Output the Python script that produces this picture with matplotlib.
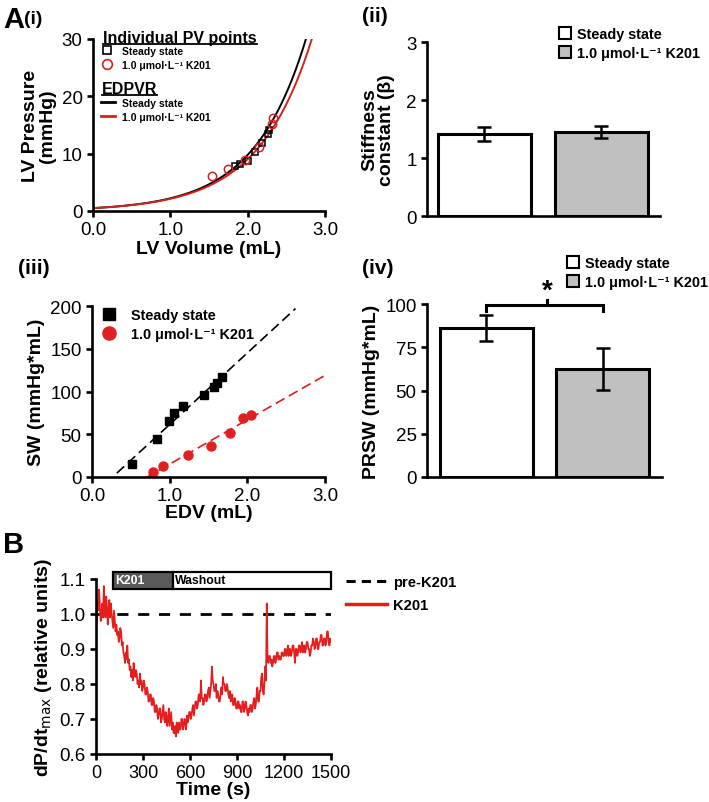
import numpy as np
import matplotlib
matplotlib.use('Agg')
import matplotlib.pyplot as plt
from matplotlib.lines import Line2D
from matplotlib.patches import Patch, Rectangle

plt.rcParams['font.family'] = ['Liberation Sans', 'DejaVu Sans']
plt.rcParams['axes.linewidth'] = 1.9
plt.rcParams['xtick.major.width'] = 1.9
plt.rcParams['ytick.major.width'] = 1.9
plt.rcParams['xtick.major.size'] = 4
plt.rcParams['ytick.major.size'] = 4
plt.rcParams['xtick.labelsize'] = 13.5
plt.rcParams['ytick.labelsize'] = 13.5

K201 = '1.0 \u03bcmol\u00b7L\u207b\u00b9 K201'
groups = ['Steady state', K201]

# A(i) individual PV points
pv_ss_vol = [1.84, 1.90, 2.00, 2.09, 2.18, 2.26, 2.27]
pv_ss_pres = [7.9, 8.2, 8.7, 10.3, 11.8, 13.4, 14.2]
pv_k_vol = [1.54, 1.74, 1.97, 2.15, 2.31, 2.33]
pv_k_pres = [6.1, 7.3, 8.9, 11.2, 15.1, 16.3]
# EDPVR fits  P = a * exp(b * V)
edpvr_a = [0.50, 0.50]
edpvr_b = [1.487, 1.447]

# A(ii) stiffness constant
beta_mean = [1.41, 1.45]
beta_sem = [0.12, 0.11]

# A(iii) stroke work vs EDV
sw_ss_edv = [0.52, 0.84, 0.99, 1.06, 1.17, 1.44, 1.57, 1.61, 1.67]
sw_ss = [14.8, 44, 65, 75, 83, 96, 105, 109.5, 117]
sw_k_edv = [0.79, 0.92, 1.23, 1.53, 1.78, 1.95, 2.05]
sw_k = [6, 13, 26, 36, 52, 69, 72]
fit_range_ss = [0.32, 2.62]
fit_range_k = [0.69, 3.0]

# A(iv) PRSW
prsw_mean = [86, 62.5]
prsw_sem = [7.5, 12]

# B dP/dt max trace, 5 s samples
trace_t = np.arange(0, 1501, 5)
trace_v = [
    0.95, 0.99, 1.04, 1.01, 1.07, 1.02, 0.98, 1.00, 1.03, 0.99, 1.08, 1.01, 0.99, 1.05, 1.02, 0.97, 1.01, 1.04, 0.99, 1.03,
    1.00, 0.98, 0.96, 1.01, 0.98, 0.95, 0.97, 0.94, 0.95, 0.92, 0.93, 0.96, 0.95, 0.91, 0.92, 0.89, 0.88, 0.86, 0.89, 0.87,
    0.91, 0.86, 0.87, 0.84, 0.85, 0.82, 0.84, 0.81, 0.86, 0.83, 0.82, 0.84, 0.83, 0.80, 0.81, 0.79, 0.83, 0.80, 0.81, 0.78,
    0.79, 0.81, 0.80, 0.77, 0.77, 0.79, 0.78, 0.75, 0.75, 0.77, 0.77, 0.74, 0.74, 0.76, 0.75, 0.72, 0.72, 0.74, 0.73, 0.70,
    0.71, 0.73, 0.73, 0.69, 0.70, 0.72, 0.74, 0.70, 0.69, 0.72, 0.71, 0.68, 0.70, 0.73, 0.68, 0.70, 0.72, 0.67, 0.69, 0.66,
    0.66, 0.68, 0.65, 0.69, 0.67, 0.66, 0.69, 0.67, 0.67, 0.70, 0.70, 0.67, 0.68, 0.70, 0.69, 0.67, 0.71, 0.69, 0.70, 0.72,
    0.72, 0.70, 0.71, 0.73, 0.74, 0.71, 0.73, 0.75, 0.75, 0.73, 0.74, 0.77, 0.77, 0.75, 0.81, 0.76, 0.76, 0.74, 0.75, 0.77,
    0.77, 0.75, 0.76, 0.78, 0.79, 0.76, 0.78, 0.80, 0.85, 0.81, 0.80, 0.78, 0.78, 0.80, 0.76, 0.78, 0.77, 0.75, 0.75, 0.77,
    0.79, 0.77, 0.82, 0.80, 0.80, 0.78, 0.78, 0.80, 0.79, 0.77, 0.76, 0.78, 0.75, 0.77, 0.77, 0.74, 0.74, 0.76, 0.75, 0.73,
    0.73, 0.75, 0.75, 0.73, 0.74, 0.72, 0.72, 0.75, 0.75, 0.72, 0.73, 0.75, 0.74, 0.72, 0.71, 0.73, 0.72, 0.74, 0.74, 0.72,
    0.73, 0.75, 0.76, 0.73, 0.74, 0.77, 0.79, 0.75, 0.75, 0.78, 0.78, 0.82, 0.83, 0.78, 0.77, 0.80, 0.85, 0.81, 1.03, 0.87,
    0.86, 0.88, 0.88, 0.86, 0.87, 0.85, 0.86, 0.88, 0.88, 0.86, 0.87, 0.89, 0.89, 0.87, 0.88, 0.87, 0.87, 0.89, 0.89, 0.88,
    0.88, 0.90, 0.90, 0.88, 0.89, 0.91, 0.88, 0.90, 0.90, 0.88, 0.89, 0.91, 0.91, 0.89, 0.86, 0.90, 0.90, 0.88, 0.89, 0.91,
    0.91, 0.89, 0.90, 0.92, 0.89, 0.91, 0.91, 0.89, 0.90, 0.92, 0.92, 0.90, 0.90, 0.88, 0.89, 0.91, 0.91, 0.93, 0.92, 0.90,
    0.91, 0.93, 0.93, 0.90, 0.90, 0.92, 0.92, 0.94, 0.94, 0.91, 0.91, 0.93, 0.93, 0.91, 0.92, 0.95, 0.95, 0.92, 0.91, 0.93,
    0.92,
]
phases = ['K201', 'Washout']
phase_start = [110, 490]
phase_end = [490, 1500]

W, H = 709, 803
fig = plt.figure(figsize=(W / 100, H / 100), dpi=100)


def fx(px):
    return px / W


def fy(py):
    return 1 - py / H


def make_ax(x0, y0, x1, y1):
    ax = fig.add_axes([fx(x0), fy(y1), fx(x1) - fx(x0), (y1 - y0) / H])
    ax.spines['top'].set_visible(False)
    ax.spines['right'].set_visible(False)
    return ax


lab = dict(fontsize=14, fontweight='bold')

# ---- A(i)
ax1 = make_ax(93, 40, 325, 212)
v = np.linspace(0, 2.9, 300)
ax1.plot(v, edpvr_a[0] * np.exp(edpvr_b[0] * v), color='black', lw=1.4)
ax1.plot(v, edpvr_a[1] * np.exp(edpvr_b[1] * v), color='#d62020', lw=1.4)
ax1.plot(pv_ss_vol, pv_ss_pres, 's', mfc='none', mec='black', ms=5, mew=1.1)
ax1.plot(pv_k_vol, pv_k_pres, 'o', mfc='none', mec='#d62020', ms=6, mew=1.1)
ax1.set_xlim(0, 3)
ax1.set_ylim(0, 30)
ax1.set_xticks([0, 1, 2, 3])
ax1.set_xticklabels(['0.0', '1.0', '2.0', '3.0'])
ax1.set_yticks([0, 10, 20, 30])
ax1.set_xlabel('LV Volume (mL)', labelpad=1, **lab)
ax1.set_ylabel('LV Pressure\n(mmHg)', labelpad=4, linespacing=1.0, **lab)

h1 = fig.text(fx(103), fy(38), 'Individual PV points', fontsize=11.5,
              fontweight='bold', va='center')
h2 = fig.text(fx(102), fy(89), 'EDPVR', fontsize=11.5, fontweight='bold',
              va='center')
leg1 = ax1.legend(handles=[
    Line2D([], [], ls='none', marker='s', mfc='none', mec='black', ms=6, mew=1.2),
    Line2D([], [], ls='none', marker='o', mfc='none', mec='#d62020', ms=7, mew=1.2)],
    labels=groups, loc='upper left', bbox_to_anchor=(fx(102), fy(47)),
    bbox_transform=fig.transFigure, frameon=False, prop=dict(size=7.5, weight='bold'),
    handlelength=1.0, handletextpad=0.9, labelspacing=0.35, borderpad=0, borderaxespad=0)
ax1.add_artist(leg1)
ax1.legend(handles=[Line2D([], [], color='black', lw=2),
                    Line2D([], [], color='#d62020', lw=2)],
           labels=groups, loc='upper left', bbox_to_anchor=(fx(101), fy(99)),
           bbox_transform=fig.transFigure, frameon=False,
           prop=dict(size=7.5, weight='bold'), handlelength=1.3,
           handletextpad=0.7, labelspacing=0.35, borderpad=0, borderaxespad=0)

# ---- A(ii)
ax2 = make_ax(427, 43, 660, 217)
ax2.bar([0, 1], beta_mean, width=0.8, color=['white', '#c0c0c0'],
        edgecolor='black', linewidth=2.2)
ax2.errorbar([0, 1], beta_mean, yerr=beta_sem, fmt='none', ecolor='black',
             elinewidth=1.8, capsize=5, capthick=1.8)
ax2.set_xlim(-0.49, 1.5)
ax2.set_ylim(0, 3)
ax2.set_yticks([0, 1, 2, 3])
ax2.set_xticks([])
ax2.set_ylabel('Stiffness\nconstant (\u03b2)', labelpad=8, linespacing=1.0, **lab)
ax2.legend(handles=[Patch(facecolor='white', edgecolor='black', lw=1.5),
                    Patch(facecolor='#c0c0c0', edgecolor='black', lw=1.5)],
           labels=groups, loc='upper left', bbox_to_anchor=(fx(559), fy(28)),
           bbox_transform=fig.transFigure, frameon=False,
           prop=dict(size=10.4, weight='bold'), handlelength=0.85,
           handleheight=0.85, handletextpad=0.4, labelspacing=0.35,
           borderpad=0, borderaxespad=0)

# ---- A(iii)
ax3 = make_ax(92, 307, 325, 478)
c_ss = np.polyfit(sw_ss_edv, sw_ss, 1)
c_k = np.polyfit(sw_k_edv, sw_k, 1)
xr = np.array(fit_range_ss)
ax3.plot(xr, np.polyval(c_ss, xr), color='black', lw=1.2, dashes=(6, 3))
xr = np.array(fit_range_k)
ax3.plot(xr, np.polyval(c_k, xr), color='#d62020', lw=1.2, dashes=(6, 3))
ax3.plot(sw_ss_edv, sw_ss, 's', color='black', ms=5.5, label=groups[0])
ax3.plot(sw_k_edv, sw_k, 'o', color='#e02020', ms=6.5, label=groups[1])
ax3.set_xlim(0, 3)
ax3.set_ylim(0, 200)
ax3.set_xticks([0, 1, 2, 3])
ax3.set_xticklabels(['0.0', '1.0', '2.0', '3.0'])
ax3.set_yticks([0, 50, 100, 150, 200])
ax3.set_xlabel('EDV (mL)', labelpad=0, **lab)
ax3.set_ylabel('SW (mmHg*mL)', labelpad=4, **lab)
ax3.legend(handles=[Line2D([], [], ls='none', marker='s', color='black', ms=8),
                    Line2D([], [], ls='none', marker='o', color='#e02020', ms=9.5)],
           labels=groups, loc='upper left', bbox_to_anchor=(fx(102), fy(309)),
           bbox_transform=fig.transFigure, frameon=False,
           prop=dict(size=10.4, weight='bold'), handlelength=1.0,
           handletextpad=1.0, labelspacing=0.35, borderpad=0, borderaxespad=0)

# ---- A(iv)
ax4 = make_ax(427, 305, 662, 478)
ax4.bar([0, 1], prsw_mean, width=0.8, color=['white', '#c0c0c0'],
        edgecolor='black', linewidth=2.2)
ax4.errorbar([0, 1], prsw_mean, yerr=prsw_sem, fmt='none', ecolor='black',
             elinewidth=1.8, capsize=5, capthick=1.8)
ax4.plot([0, 0, 1, 1], [96, 99.5, 99.5, 96], color='black', lw=2.2,
         clip_on=False, solid_joinstyle='miter')
ax4.plot([0.52, 0.52], [99.5, 102.5], color='black', lw=2.2, clip_on=False)
ax4.text(0.52, 100.5, '*', ha='center', va='bottom', fontsize=20,
         fontweight='bold')
ax4.set_xlim(-0.51, 1.51)
ax4.set_ylim(0, 100)
ax4.set_yticks([0, 25, 50, 75, 100])
ax4.set_xticks([])
ax4.set_ylabel('PRSW (mmHg*mL)', labelpad=4, **lab)
ax4.legend(handles=[Patch(facecolor='white', edgecolor='black', lw=1.5),
                    Patch(facecolor='#c0c0c0', edgecolor='black', lw=1.5)],
           labels=groups, loc='upper left', bbox_to_anchor=(fx(567), fy(257)),
           bbox_transform=fig.transFigure, frameon=False,
           prop=dict(size=10.4, weight='bold'), handlelength=0.85,
           handleheight=0.85, handletextpad=0.4, labelspacing=0.35,
           borderpad=0, borderaxespad=0)

# ---- B
ax5 = make_ax(96, 580, 331, 755)
ax5.plot([0, 1500], [1.0, 1.0], color='black', lw=2, dashes=(4, 3.5))
ax5.plot(trace_t, trace_v, color='#e51d1d', lw=1.25)
for name, s, e in zip(phases, phase_start, phase_end):
    dark = name == 'K201'
    ax5.add_patch(Rectangle((s, 1.072), e - s, 0.048, clip_on=False,
                            facecolor='#5a5a5a' if dark else 'white',
                            edgecolor='black', lw=1.6))
    ax5.text(s + 12, 1.096, name, ha='left', va='center', fontsize=8.8,
             fontweight='bold', color='white' if dark else 'black')
ax5.set_xlim(0, 1500)
ax5.set_ylim(0.6, 1.1)
ax5.set_xticks([0, 300, 600, 900, 1200, 1500])
ax5.set_yticks([0.6, 0.7, 0.8, 0.9, 1.0, 1.1])
ax5.set_yticklabels(['0.6', '0.7', '0.8', '0.9', '1.0', '1.1'])
ax5.tick_params(axis='x', labelsize=13)
ax5.set_xlabel('Time (s)', labelpad=0, **lab)
ax5.set_ylabel('dP/dt$_{\\mathrm{max}}$ (relative units)', labelpad=4, **lab)
ax5.legend(handles=[Line2D([], [], color='black', lw=2.2, dashes=(3, 2)),
                    Line2D([], [], color='#e51d1d', lw=2.5)],
           labels=['pre-K201', 'K201'], loc='upper left',
           bbox_to_anchor=(fx(346), fy(576)), bbox_transform=fig.transFigure,
           frameon=False, prop=dict(size=10.6, weight='bold'),
           handlelength=2.8, handletextpad=0.4, labelspacing=0.6,
           borderpad=0, borderaxespad=0)

# panel labels
fig.text(fx(3), fy(20), 'A', fontsize=21, fontweight='bold', va='center')
fig.text(fx(24), fy(20), '(i)', fontsize=14, fontweight='bold', va='center')
fig.text(fx(362), fy(16), '(ii)', fontsize=15, fontweight='bold', va='center')
fig.text(fx(18), fy(268), '(iii)', fontsize=15, fontweight='bold', va='center')
fig.text(fx(362), fy(268), '(iv)', fontsize=15, fontweight='bold', va='center')
fig.text(fx(3), fy(545), 'B', fontsize=21, fontweight='bold', va='center')

# underline legend headings
fig.canvas.draw()
r = fig.canvas.get_renderer()
for t in (h1, h2):
    bb = t.get_window_extent(r).transformed(fig.transFigure.inverted())
    fig.add_artist(Line2D([bb.x0, bb.x1], [bb.y0 + 0.001, bb.y0 + 0.001],
                          transform=fig.transFigure, color='black', lw=1.3))

fig.savefig('out.png', dpi=100)
